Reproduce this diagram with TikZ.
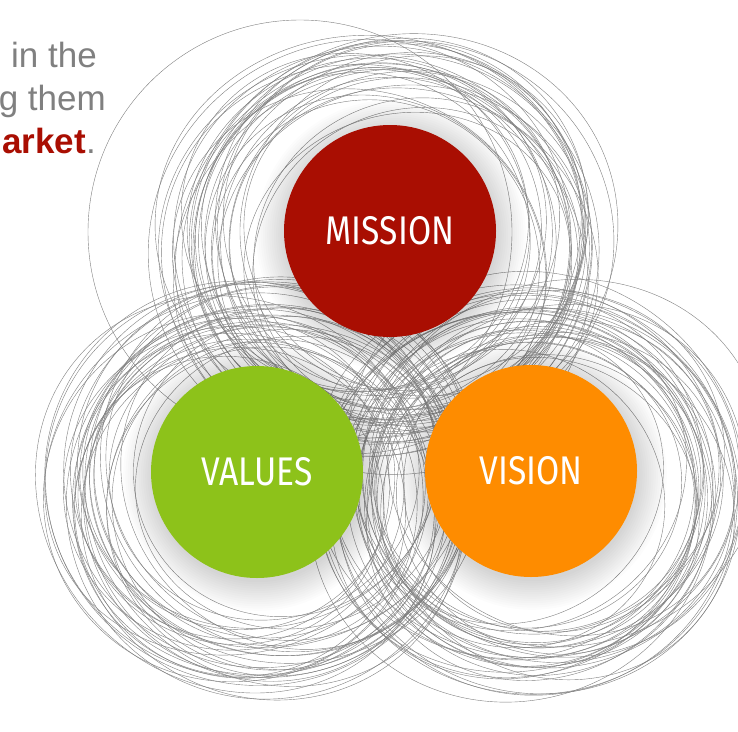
\documentclass[tikz,border=0pt]{standalone}
\usepackage{fontspec}
\usepackage{xcolor}
\usepackage{tikz}
\setmainfont{Liberation Sans}
\newfontfamily\labelfont{Fira Sans}[FakeStretch=0.84]
\definecolor{missionred}{HTML}{A90E02}
\definecolor{valuesgreen}{HTML}{8DC21A}
\definecolor{visionorange}{HTML}{FE8C00}
\colorlet{textgray}{black!50}
\colorlet{ringgray}{black!50}
\tikzstyle{ring}=[draw=ringgray,line width=.4pt]
\tikzstyle{disc}=[circle,minimum size=212pt,inner sep=0pt,text=white,font=\labelfont\fontsize{40}{40}\selectfont]
\tikzstyle{lead}=[anchor=base east,inner sep=0pt,text=textgray,font=\fontsize{35}{35}\selectfont]
% a cluster of loose rings round one point
\newcommand\ringset[4]{%
  \foreach \k in {1,...,#3}{%
    \pgfmathsetmacro\dx{rand*32}%
    \pgfmathsetmacro\dy{rand*25}%
    \pgfmathsetmacro\rx{#4+rand*30}%
    \pgfmathsetmacro\ry{\rx*(0.94+0.05*rand)}%
    \pgfmathsetmacro\rot{rand*45}%
    \draw[ring,rotate around={\rot:(#1+\dx,#2+\dy)}] (#1+\dx,#2+\dy) ellipse (\rx pt and \ry pt);
  }}
% soft shadow under a disc
\newcommand\glow[1]{%
  \foreach \g in {1,...,14}{%
    \fill[black,opacity=.01] (#1.center) ++(1,4) circle (104+2.2*\g);
  }}
\begin{document}
\begin{tikzpicture}[x=1pt,y=-1pt]
	\useasboundingbox (0,0) rectangle (738,731);
	\clip (0,0) rectangle (738,731);
	\fill[white] (0,0) rectangle (738,731);
	\pgfmathsetseed{4217}
	\ringset{385}{245}{34}{190}
	\ringset{262}{488}{34}{180}
	\ringset{538}{485}{34}{180}
	\draw[ring] (300,232) circle (212);
	\coordinate (m) at (390,231);
	\coordinate (a) at (257,472);
	\coordinate (o) at (531,471);
	\glow{m}
	\glow{a}
	\glow{o}
	\node[disc,fill=missionred]   (mission) at (m) {MISSION};
	\node[disc,fill=valuesgreen]  (values)  at (a) {VALUES};
	\node[disc,fill=visionorange] (vision)  at (o) {VISION};
	\node[lead] (line1) at (97,67)  {in the};
	\node[lead] (line2) at (106,110) {g them};
	\node[lead] (line3) at (96,153) {\textbf{\color{missionred}market}.};
\end{tikzpicture}
\end{document}
